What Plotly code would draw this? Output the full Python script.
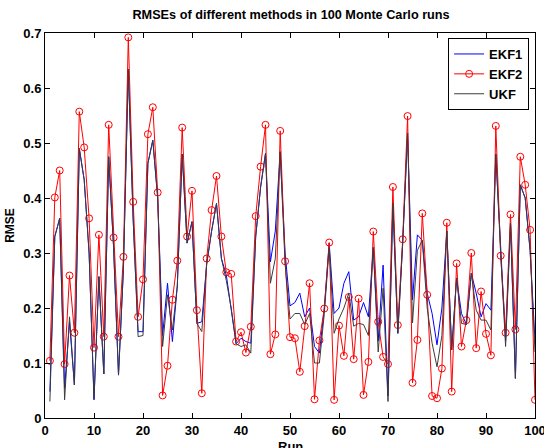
import plotly.graph_objects as go

# RMSE per Monte Carlo run
runs = list(range(1, 101))

ekf1 = [0.048, 0.33, 0.363, 0.054, 0.175, 0.06, 0.49, 0.433, 0.30, 0.033,
        0.257, 0.08, 0.475, 0.31, 0.078, 0.27, 0.634, 0.36, 0.157, 0.157,
        0.463, 0.505, 0.40, 0.15, 0.245, 0.139, 0.24, 0.48, 0.318, 0.357,
        0.172, 0.175, 0.28, 0.34, 0.39, 0.29, 0.26, 0.2, 0.135, 0.145,
        0.139, 0.136, 0.33, 0.42, 0.481, 0.284, 0.34, 0.484, 0.30, 0.204,
        0.21, 0.227, 0.184, 0.2, 0.13, 0.118, 0.2, 0.318, 0.19, 0.2,
        0.245, 0.266, 0.178, 0.184, 0.21, 0.184, 0.31, 0.14, 0.278, 0.04,
        0.39, 0.154, 0.318, 0.518, 0.215, 0.333, 0.323, 0.227, 0.19, 0.133,
        0.2, 0.34, 0.124, 0.254, 0.19, 0.17, 0.263, 0.227, 0.184, 0.208,
        0.196, 0.48, 0.3, 0.14, 0.354, 0.072, 0.424, 0.40, 0.305, 0.14]

ekf2 = [0.104, 0.401, 0.450, 0.098, 0.259, 0.155, 0.557, 0.492, 0.363, 0.128,
        0.333, 0.148, 0.533, 0.328, 0.148, 0.293, 0.692, 0.393, 0.184, 0.252,
        0.516, 0.565, 0.41, 0.041, 0.095, 0.215, 0.286, 0.528, 0.33, 0.413,
        0.196, 0.045, 0.29, 0.378, 0.44, 0.33, 0.265, 0.262, 0.139, 0.156,
        0.119, 0.166, 0.367, 0.457, 0.533, 0.116, 0.152, 0.522, 0.285, 0.147,
        0.145, 0.084, 0.167, 0.245, 0.034, 0.141, 0.199, 0.319, 0.033, 0.168,
        0.113, 0.22, 0.107, 0.217, 0.042, 0.102, 0.339, 0.175, 0.111, 0.098,
        0.42, 0.169, 0.325, 0.549, 0.064, 0.142, 0.372, 0.224, 0.04, 0.036,
        0.09, 0.355, 0.048, 0.281, 0.13, 0.178, 0.3, 0.127, 0.23, 0.153,
        0.114, 0.531, 0.295, 0.155, 0.37, 0.161, 0.475, 0.424, 0.342, 0.033]

ukf = [0.03, 0.33, 0.363, 0.033, 0.184, 0.06, 0.49, 0.433, 0.30, 0.035,
       0.257, 0.08, 0.475, 0.31, 0.078, 0.27, 0.634, 0.36, 0.148, 0.15,
       0.463, 0.505, 0.40, 0.13, 0.224, 0.16, 0.24, 0.48, 0.318, 0.357,
       0.172, 0.157, 0.28, 0.34, 0.39, 0.29, 0.25, 0.2, 0.135, 0.13,
       0.133, 0.118, 0.33, 0.42, 0.481, 0.245, 0.29, 0.484, 0.28, 0.18,
       0.19, 0.19, 0.17, 0.19, 0.10, 0.10, 0.19, 0.31, 0.154, 0.18,
       0.2, 0.227, 0.167, 0.172, 0.17, 0.15, 0.31, 0.12, 0.236, 0.03,
       0.39, 0.154, 0.318, 0.518, 0.173, 0.305, 0.323, 0.2, 0.136, 0.093,
       0.15, 0.34, 0.124, 0.254, 0.172, 0.17, 0.263, 0.196, 0.178, 0.178,
       0.16, 0.48, 0.3, 0.13, 0.354, 0.072, 0.424, 0.40, 0.305, 0.12]

x_ticks = list(range(0, 101, 10))
y_ticks = [0, 0.1, 0.2, 0.3, 0.4, 0.5, 0.6, 0.7]
y_ticktext = ["0", "0.1", "0.2", "0.3", "0.4", "0.5", "0.6", "0.7"]

font = dict(family="Liberation Sans, Arial, sans-serif", color="black", weight="bold")

fig = go.Figure()
fig.add_scatter(x=runs, y=ekf1, mode="lines", name="EKF1",
                line=dict(color="#0000ff", width=1))
fig.add_scatter(x=runs, y=ekf2, mode="lines+markers", name="EKF2",
                line=dict(color="#ff0000", width=1),
                marker=dict(symbol="circle-open", size=7, color="#ff0000",
                            line=dict(width=1)))
fig.add_scatter(x=runs, y=ukf, mode="lines", name="UKF",
                line=dict(color="#3c3c3c", width=1))

axis_common = dict(showline=True, linecolor="black", linewidth=1, mirror="ticks",
                   ticks="inside", ticklen=5, tickcolor="black", showgrid=False,
                   zeroline=False, automargin=False, ticklabeloverflow="allow",
                   tickfont=dict(size=13, **font))

fig.update_xaxes(range=[0, 100], tickvals=x_ticks, **axis_common)
fig.update_yaxes(range=[0, 0.7], tickvals=y_ticks, ticktext=y_ticktext,
                 title=dict(text="RMSE", font=dict(size=12, **font), standoff=6),
                 **axis_common)

# x-axis title placed like the MATLAB label, partly below the frame
fig.add_annotation(text="Run", xref="paper", yref="paper", x=0.5, y=-0.073,
                   xanchor="center", yanchor="middle", showarrow=False,
                   font=dict(size=13, **font))

fig.update_layout(
    width=544, height=448,
    margin=dict(l=45, r=9, t=33, b=30),
    plot_bgcolor="white", paper_bgcolor="white",
    title=dict(text="RMSEs of different methods in 100 Monte Carlo runs",
               font=dict(size=12.7, **font), x=0.535, xanchor="center", y=0.968, yanchor="middle"),
    legend=dict(x=0.988, y=0.987, xanchor="right", yanchor="top",
                bgcolor="white", bordercolor="black", borderwidth=1,
                font=dict(size=13, **font), tracegroupgap=0, itemwidth=30),
    showlegend=True,
)

fig.write_html("out.html", config={"displayModeBar": False},
               post_script="document.body.style.margin='0';")
